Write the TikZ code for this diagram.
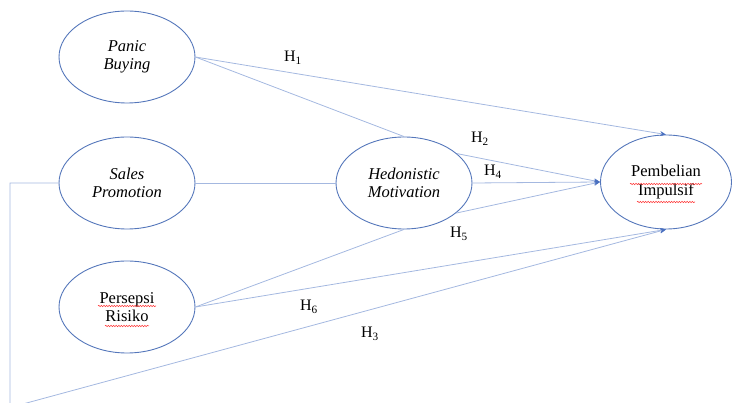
\documentclass[tikz,border=0pt]{standalone}
\usepackage{fontspec}
\setmainfont{Liberation Serif}
\usetikzlibrary{shapes.geometric,arrows.meta,decorations.pathmorphing}
\definecolor{ellblue}{HTML}{5577BB}
\definecolor{linkblue}{HTML}{A4B8E0}
\definecolor{tipblue}{HTML}{4A70C0}
\tikzset{
  construct/.style={ellipse, draw=ellblue, line width=0.9pt, minimum width=136pt, minimum height=92pt, inner sep=0pt, align=center, font=\fontsize{16.5}{18.5}\selectfont},
  link/.style={draw=linkblue, line width=0.8pt},
  arrowlink/.style={link, -{Stealth[length=6pt,width=5pt,color=tipblue]}},
  hlabel/.style={font=\fontsize{16}{18}\selectfont, inner sep=0pt},
  spell/.style={draw=red!80, line width=0.5pt, decorate, decoration={snake, amplitude=0.7pt, segment length=2.6pt}}
}
\begin{document}
\begin{tikzpicture}[x=1pt,y=-1pt]
\useasboundingbox (0,0) rectangle (732,403);
\clip (0,0) rectangle (732,403);
\node[construct] (pb) at (127,57) {\textit{Panic}\\\textit{Buying}};
\node[construct] (sp) at (127,183) {\textit{Sales}\\\textit{Promotion}};
\node[construct] (pr) at (127,307) {Persepsi\\Risiko};
\node[construct] (hm) at (404,183) {\textit{Hedonistic}\\\textit{Motivation}};
\node[construct, minimum width=131pt, minimum height=94pt] (pi) at (666,182) {Pembelian\\Impulsif};

\coordinate (c1) at (10,183);
\coordinate (c2) at (10,407.5);

\draw[arrowlink] (pb.east) -- (pi.north);
\draw[link] (pb.east) -- (hm.north);
\draw[link] (sp.east) -- (hm.west);
\draw[arrowlink] (hm.29) -- (pi.west);
\draw[arrowlink] (hm.east) -- (pi.west);
\draw[arrowlink] (hm.-30) -- (pi.west);
\draw[link] (pr.east) -- (hm.south);
\draw[arrowlink] (pr.east) -- (pi.south);
\draw[arrowlink] (sp.west) -- (c1) -- (c2) -- (pi.south);

\node[hlabel] (h1) at (293,58) {H\textsubscript{1}};
\node[hlabel] (h2) at (480,139) {H\textsubscript{2}};
\node[hlabel] (h4) at (493,172) {H\textsubscript{4}};
\node[hlabel] (h5) at (459,234) {H\textsubscript{5}};
\node[hlabel] (h6) at (309,307) {H\textsubscript{6}};
\node[hlabel] (h3) at (370,334) {H\textsubscript{3}};

\draw[spell] ([shift={(-36,2)}]pi.center) -- ([shift={(36,2)}]pi.center);
\draw[spell] ([shift={(-29,20)}]pi.center) -- ([shift={(29,20)}]pi.center);
\draw[spell] ([shift={(-29,-1)}]pr.center) -- ([shift={(29,-1)}]pr.center);
\draw[spell] ([shift={(-22,19)}]pr.center) -- ([shift={(22,19)}]pr.center);
\end{tikzpicture}
\end{document}
